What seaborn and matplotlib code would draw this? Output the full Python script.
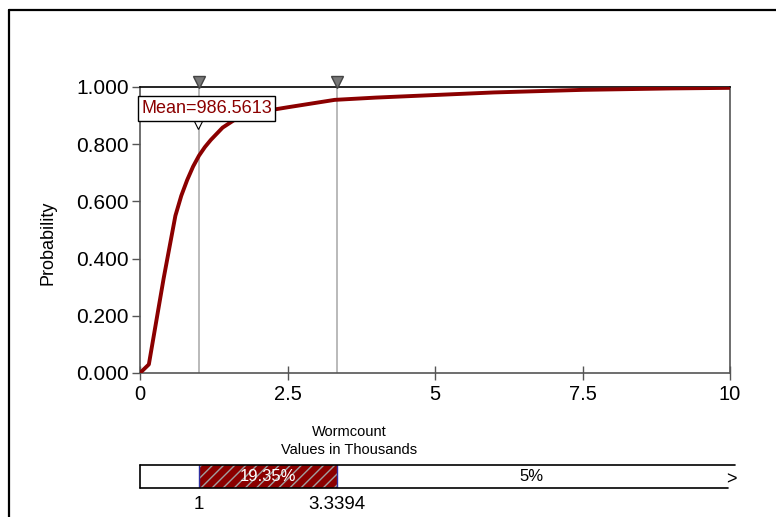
import numpy as np
import pandas as pd
import matplotlib
matplotlib.use("Agg")
import matplotlib.pyplot as plt
import matplotlib.transforms as mtrans
import seaborn as sns
from matplotlib.patches import Rectangle
from matplotlib.lines import Line2D

# ---------------- data ----------------
x_thousands = [0.0, 0.15, 0.4, 0.6, 0.7, 0.8, 0.9, 1.0, 1.1, 1.2, 1.4, 1.6, 2.0, 2.5, 3.3, 4.0, 5.0, 6.0, 7.5, 9.0, 10.0]
probability = [0.0, 0.03, 0.33, 0.55, 0.62, 0.675, 0.722, 0.76, 0.79, 0.815, 0.858, 0.885, 0.912, 0.929, 0.955, 0.963, 0.972, 0.981, 0.99, 0.995, 0.997]
x_ticks = [0, 2.5, 5, 7.5, 10]
x_tick_labels = ["0", "2.5", "5", "7.5", "10"]
y_ticks = [0.0, 0.2, 0.4, 0.6, 0.8, 1.0]
y_tick_labels = ["0.000", "0.200", "0.400", "0.600", "0.800", "1.000"]
marker_values = [1.0, 3.3394]
marker_labels = ["1", "3.3394"]
mean_value = 0.9865613
mean_label = "Mean=986.5613"
band_pcts = ["19.35%", "5%"]

sns.set_theme(style="white")
plt.rcParams["font.family"] = ["Liberation Sans", "DejaVu Sans"]
plt.rcParams["hatch.linewidth"] = 1.0

W, H = 776, 517
fig = plt.figure(figsize=(W / 100, H / 100), dpi=100)
fig.patch.set_facecolor("white")

L, R, T, B = 140, 730, 87, 373
ax = fig.add_axes([L / W, 1 - B / H, (R - L) / W, (B - T) / H])

df = pd.DataFrame({"x": x_thousands, "p": probability})
for v in marker_values:
    ax.axvline(v, color="#b4b4b4", lw=1.3, zorder=1)
sns.lineplot(data=df, x="x", y="p", ax=ax, color="#8b0000", lw=2.8, zorder=3)

ax.set_xlim(0, 10)
ax.set_ylim(0, 1)
ax.set_xticks(x_ticks)
ax.set_xticklabels(x_tick_labels, fontsize=14.5, color="black")
ax.set_yticks(y_ticks)
ax.set_yticklabels(y_tick_labels, fontsize=15, color="black")
ax.set_xlabel("")
ax.set_ylabel("")
ax.tick_params(axis="y", direction="out", length=6, width=1, color="#555555", pad=2, left=True)
ax.tick_params(axis="x", direction="inout", length=10, width=1, color="#555555", pad=4, bottom=True)
for s in ["left", "bottom", "right"]:
    ax.spines[s].set_color("#555555")
    ax.spines[s].set_linewidth(1.2)
ax.spines["top"].set_color("black")
ax.spines["top"].set_linewidth(1.2)

# markers on top
top_marks, = ax.plot(marker_values, [1.0, 1.0], ls="none", marker="v", markersize=8,
                     markerfacecolor="#777777", markeredgecolor="#444444",
                     clip_on=False, zorder=5)
top_marks.set_transform(ax.transData + mtrans.ScaledTranslation(0, 5 / 100, fig.dpi_scale_trans))

# mean label and hollow marker
ax.plot([mean_value], [0.871], ls="none", marker="v", markersize=7,
        markerfacecolor="white", markeredgecolor="black", markeredgewidth=0.8, zorder=6, clip_on=False)
ax.text(1.127, 0.925, mean_label, ha="center", va="center", fontsize=13,
        color="#8b0000", zorder=7,
        bbox=dict(boxstyle="square,pad=0.2", fc="white", ec="black", lw=1))

# axis labels
fig.text(48 / W, 1 - 243 / H, "Probability", rotation=90, ha="center", va="center",
         fontsize=13, color="black")
fig.text(349 / W, 1 - 432 / H, "Wormcount", ha="center", va="center",
         fontsize=10.5, color="black")
fig.text(349 / W, 1 - 450 / H, "Values in Thousands", ha="center", va="center",
         fontsize=10.5, color="black")

# ---------------- bottom band ----------------
bt, bb = 465, 488
ax2 = fig.add_axes([L / W, 1 - bb / H, (R - L) / W, (bb - bt) / H])
ax2.set_xlim(0, 10)
ax2.set_ylim(0, 1)
ax2.axis("off")
ax2.add_patch(Rectangle((marker_values[0], 0), marker_values[1] - marker_values[0], 1,
                        facecolor="#8b0000", edgecolor="#a0a0a0", hatch="///", lw=0, zorder=1))
for v in marker_values:
    ax2.plot([v, v], [0, 1], color="#3030a0", lw=1, zorder=3)
ax2.plot([0, 10.08], [1, 1], color="black", lw=1.2, clip_on=False, zorder=4)
ax2.plot([0, 9.97], [0, 0], color="black", lw=1.2, clip_on=False, zorder=4)
ax2.plot([0, 0], [0, 1], color="black", lw=1.2, clip_on=False, zorder=4)
ax2.text((marker_values[0] + marker_values[1]) / 2, 0.5, band_pcts[0], ha="center", va="center",
         fontsize=12, color="white", zorder=5)
ax2.text(6.64, 0.5, band_pcts[1], ha="center", va="center",
         fontsize=12, color="black", zorder=5)
ax2.text(10.02, 0.35, ">", ha="center", va="center", fontsize=13, color="black", clip_on=False)
for v, lab in zip(marker_values, marker_labels):
    ax2.text(v, -0.72, lab, ha="center", va="center", fontsize=13.5, color="black", clip_on=False)

# outer frame
fx = 9 / W
fy = 1 - 10 / H
fig.add_artist(Line2D([fx, fx], [-0.02, fy], transform=fig.transFigure, color="black", lw=1.6))
fig.add_artist(Line2D([fx, 1.02], [fy, fy], transform=fig.transFigure, color="black", lw=1.6))

fig.savefig("out.png", dpi=100)
